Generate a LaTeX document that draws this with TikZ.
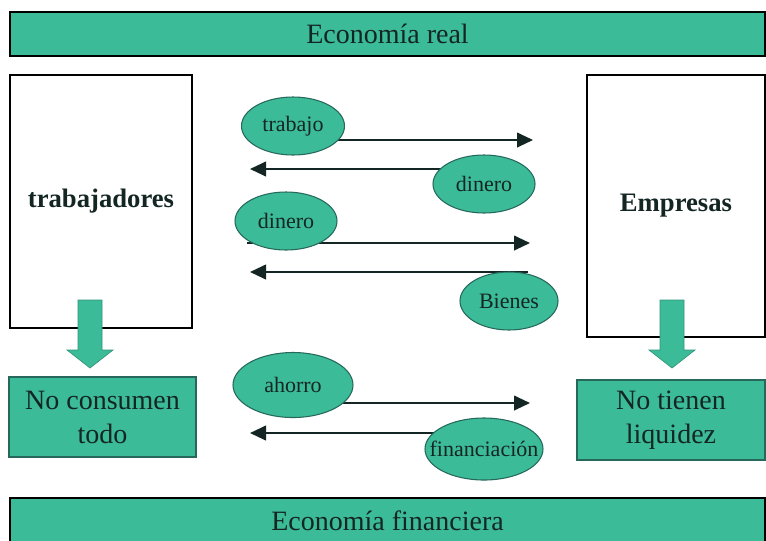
\documentclass[tikz,border=0pt]{standalone}
\usepackage{fontspec}
\setmainfont{Liberation Serif}
\usetikzlibrary{arrows.meta,shapes.geometric,backgrounds}
\definecolor{verdeagua}{RGB}{60,187,152}
\definecolor{bordeverde}{RGB}{38,105,92}
\definecolor{tinta}{RGB}{20,38,36}

\begin{document}
\begin{tikzpicture}[x=0.75pt,y=-0.75pt,every node/.style={text=tinta},
  barra/.style={draw=black,line width=1.5pt,fill=verdeagua,minimum width=566pt,minimum height=33pt,font=\fontsize{21}{25}\selectfont},
  caja/.style={draw=black,line width=2pt,fill=white,font=\bfseries\fontsize{20}{24}\selectfont},
  resumen/.style={draw=bordeverde,line width=0.8pt,fill=verdeagua,align=center,font=\fontsize{21}{25.5}\selectfont},
  flujo/.style={ellipse,draw=bordeverde,line width=0.8pt,fill=verdeagua,inner sep=0pt,minimum width=77pt,minimum height=43.5pt,font=\fontsize{16.5}{18}\selectfont},
  flecha/.style={draw=tinta,line width=1.5pt,-{Triangle[length=12pt,width=11pt]}},
  bloque/.style={fill=verdeagua,draw=verdeagua!80!black,line width=0.5pt}]
\useasboundingbox (0,0) rectangle (766,540);
\node[barra] (real) at (387.5,34) {Economía real};
\node[caja,minimum width=136.5pt,minimum height=189.75pt] (trab) at (101,201.5) {trabajadores};
\node[caja,minimum width=133.5pt,minimum height=196.5pt] (emp) at (676,206) {Empresas};
\node[resumen,minimum width=140.25pt,minimum height=60pt] (noc) at (102.5,417) {No consumen\\todo};
\node[resumen,minimum width=141pt,minimum height=60pt] (noliq) at (671,420) {No tienen\\liquidez};
\begin{scope}
\clip (0,0) rectangle (766,540);
\node[barra,minimum height=34.5pt] (fin) at (387.5,521) {Economía financiera};
\end{scope}
% flechas gruesas hacia abajo
\coordinate (baja1) at (90,300);
\coordinate (baja2) at (672,300);
\foreach \p in {baja1,baja2}
  \draw[bloque] (\p) ++(-12,0) -- ++(24,0) -- ++(0,50) -- ++(11,0) -- ++(-23,18) -- ++(-23,-18) -- ++(11,0) -- cycle;
% flujos
\node[flujo,minimum width=77.25pt] (trabajo) at (293,126) {trabajo};
\node[flujo,minimum width=76.5pt] (dinero1) at (484,184) {dinero};
\node[flujo,minimum width=76.5pt] (dinero2) at (286,221) {dinero};
\node[flujo,minimum width=73.5pt] (bienes) at (509,301) {Bienes};
\node[flujo,minimum width=90pt,minimum height=48.75pt] (ahorro) at (293,385) {ahorro};
\node[flujo,minimum width=88.5pt,minimum height=46.5pt] (financ) at (484,449) {\makebox[0pt]{financiación}};
\coordinate (r1) at (533,140);
\coordinate (l2) at (250,169);
\coordinate (s3) at (247,243); \coordinate (r3) at (530,243);
\coordinate (s4) at (528,272); \coordinate (l4) at (250,272);
\coordinate (r5) at (530,403);
\coordinate (l6) at (250,433);
\begin{scope}[on background layer]
\draw[flecha] (trabajo |- r1) -- (r1);
\draw[flecha] (dinero1 |- l2) -- (l2);
\draw[flecha] (s3) -- (r3);
\draw[flecha] (s4) -- (l4);
\draw[flecha] (ahorro |- r5) -- (r5);
\draw[flecha] (financ |- l6) -- (l6);
\end{scope}
\end{tikzpicture}
\end{document}
